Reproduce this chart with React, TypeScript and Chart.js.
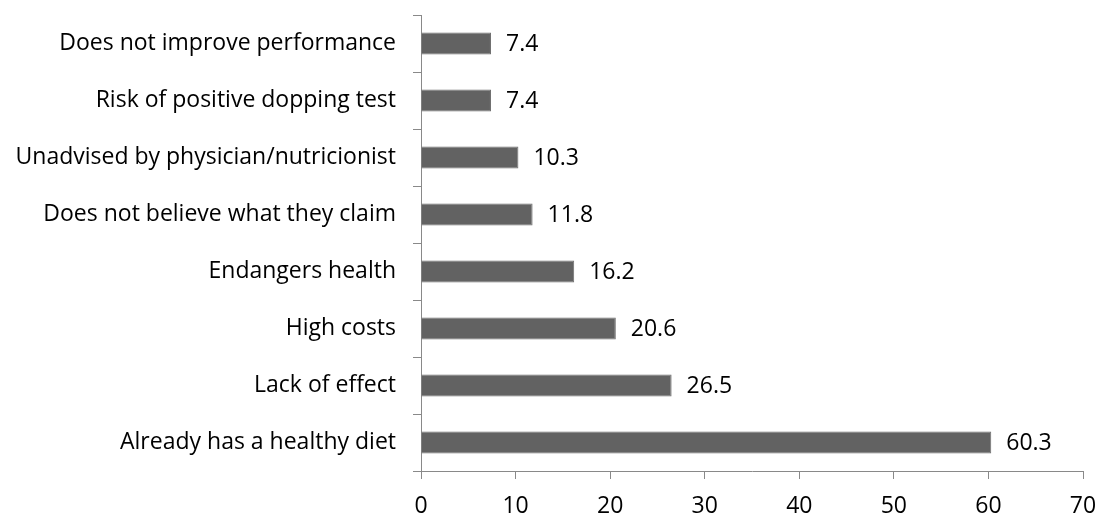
import React, { useEffect, useRef } from "react";
import { Chart, registerables } from "chart.js";

Chart.register(...registerables);

const categories = [
  "Does not improve performance",
  "Risk of positive dopping test",
  "Unadvised by physician/nutricionist",
  "Does not believe what they claim",
  "Endangers health",
  "High costs",
  "Lack of effect",
  "Already has a healthy diet",
];
const values = [7.4, 7.4, 10.3, 11.8, 16.2, 20.6, 26.5, 60.3];
const xTicks = [0, 10, 20, 30, 40, 50, 60, 70];

const FONT = "'Open Sans', sans-serif";
const SIZE = 23;

const labelPlugin = {
  id: "barLabels",
  afterDatasetsDraw(chart: any) {
    const ctx = chart.ctx;
    const meta = chart.getDatasetMeta(0);
    ctx.save();
    ctx.font = `${SIZE}px ${FONT}`;
    ctx.fillStyle = "#000";
    ctx.textAlign = "left";
    ctx.textBaseline = "middle";
    meta.data.forEach((bar: any, i: number) => {
      ctx.fillText(values[i].toFixed(1), bar.x + 15, bar.y + 1);
    });
    ctx.restore();
  },
};

export default function App() {
  const ref = useRef<HTMLCanvasElement>(null);
  useEffect(() => {
    document.body.style.margin = "0";
    const chart = new Chart(ref.current!, {
      type: "bar",
      data: {
        labels: categories,
        datasets: [
          {
            data: values,
            backgroundColor: "#626262",
            borderColor: "#6e6e6e",
            borderWidth: 1,
            categoryPercentage: 0.39,
            barPercentage: 1,
          },
        ],
      },
      plugins: [labelPlugin],
      options: {
        indexAxis: "y",
        animation: false,
        responsive: false,
        maintainAspectRatio: false,
        layout: { padding: { top: 15, right: 20, left: 0, bottom: 0 } },
        plugins: { legend: { display: false }, tooltip: { enabled: false } },
        scales: {
          x: {
            min: 0,
            max: 70,
            afterBuildTicks(scale: any) {
              scale.ticks = xTicks.map((v) => ({ value: v }));
            },
            afterFit(scale: any) {
              scale.height = 48;
              scale.paddingLeft = 0;
              scale.paddingRight = 0;
            },
            grid: {
              drawOnChartArea: false,
              drawTicks: true,
              tickLength: 8,
              color: "#898989",
            },
            border: { display: true, color: "#898989", width: 1 },
            ticks: {
              color: "#000",
              font: { family: FONT, size: SIZE },
              padding: 14,
              maxRotation: 0,
            },
          },
          y: {
            afterFit(scale: any) {
              scale.width = 421;
              scale.paddingTop = 0;
              scale.paddingBottom = 0;
            },
            grid: {
              offset: true,
              drawOnChartArea: false,
              drawTicks: true,
              tickLength: 8,
              color: "#898989",
            },
            border: { display: true, color: "#898989", width: 1 },
            ticks: {
              color: "#000",
              font: { family: FONT, size: SIZE },
              padding: 17,
              autoSkip: false,
            },
          },
        },
      },
    });
    return () => chart.destroy();
  }, []);
  return (
    <div style={{ width: 1103, height: 519 }}>
      <canvas ref={ref} width={1103} height={519} style={{ display: "block" }} />
    </div>
  );
}
